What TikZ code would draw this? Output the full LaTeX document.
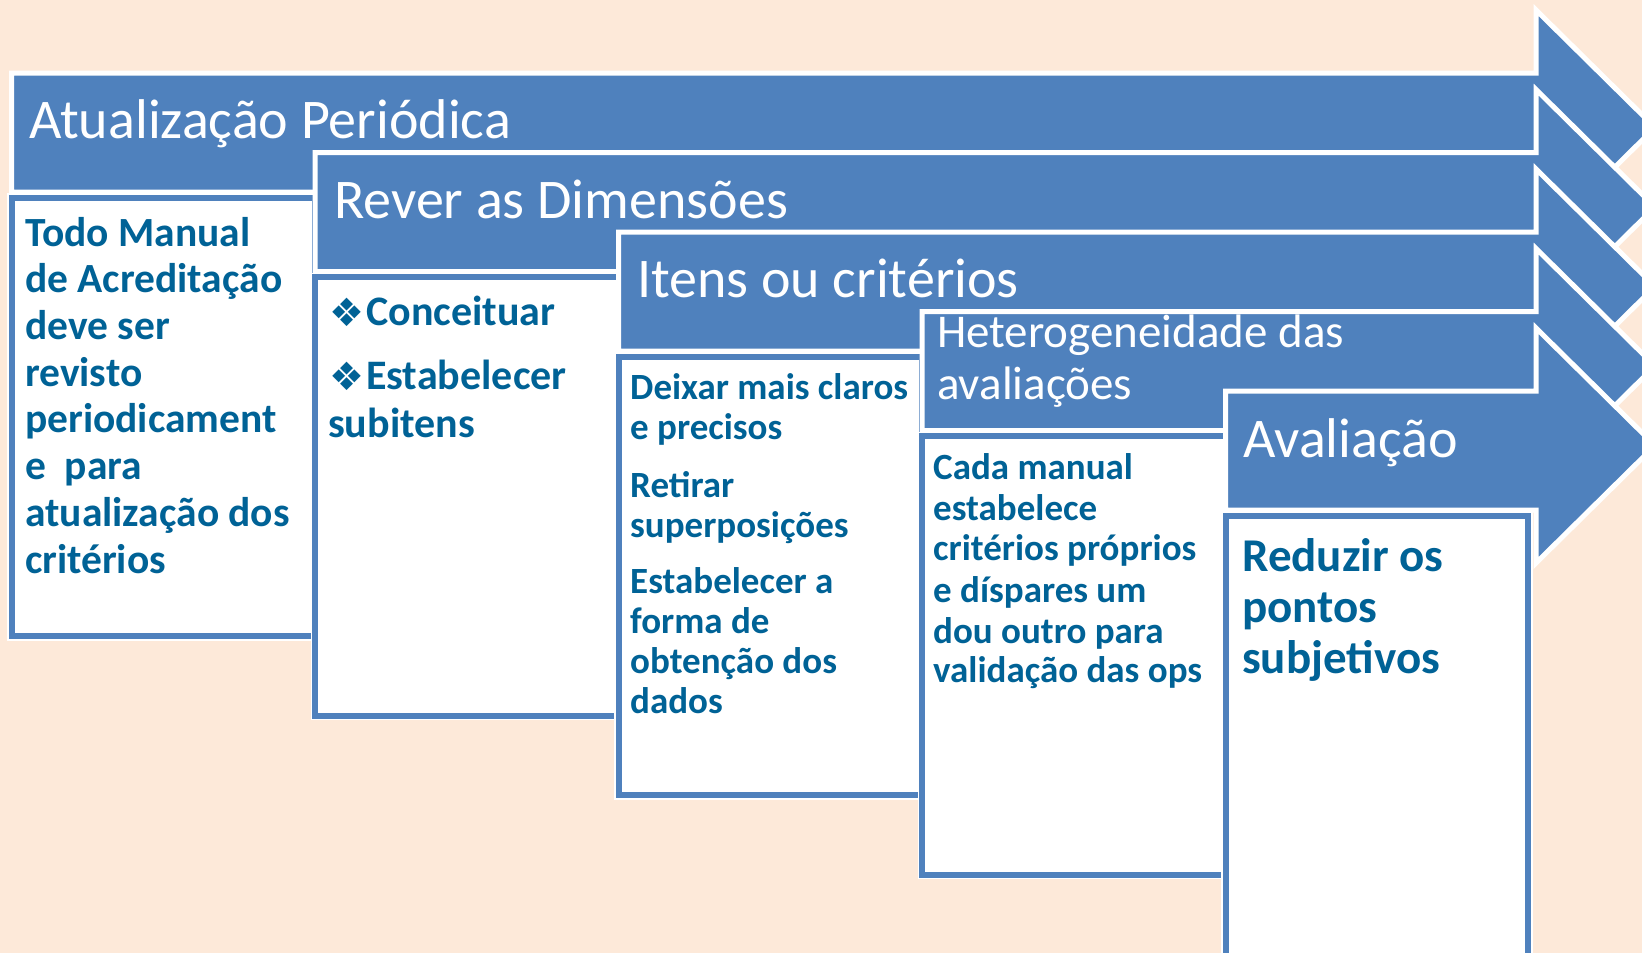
\documentclass[tikz,border=0pt]{standalone}
\usepackage{fontspec}
\setmainfont{Carlito}
\newfontfamily\dejavu{DejaVu Sans}
\definecolor{bgpeach}{RGB}{253,233,217}
\definecolor{arrowblue}{RGB}{79,129,189}
\definecolor{txtblue}{RGB}{0,98,150}
\tikzset{
  arrowshape/.style={fill=arrowblue, draw=white, line width=5pt, line join=miter},
  boxhalo/.style={draw=white, line width=9pt},
  contentbox/.style={fill=white, draw=arrowblue, line width=6pt},
  headtxt/.style={anchor=base west, inner sep=0pt, text=white, font=\fontsize{56}{60}\selectfont},
  headtxtsmall/.style={anchor=base west, inner sep=0pt, text=white, font=\fontsize{47}{52}\selectfont},
  bodyA/.style={anchor=base west, inner sep=0pt, text=txtblue, font=\bfseries\fontsize{41.5}{46}\selectfont},
  bodyB/.style={anchor=base west, inner sep=0pt, text=txtblue, font=\bfseries\fontsize{42}{46}\selectfont},
  bodyC/.style={anchor=base west, inner sep=0pt, text=txtblue, font=\bfseries\fontsize{37}{41}\selectfont},
  bodyD/.style={anchor=base west, inner sep=0pt, text=txtblue, font=\bfseries\fontsize{47}{52}\selectfont},
  bulletmark/.style={anchor=base west, inner sep=0pt, text=txtblue, font=\dejavu\fontsize{39}{40}\selectfont},
}
\begin{document}
\begin{tikzpicture}[x=1pt,y=-1pt]
\useasboundingbox (0,0) rectangle (1642,953);
\fill[bgpeach] (0,0) rectangle (1642,953);
\begin{scope}
\clip (0,0) rectangle (1642,953);
% step 1
\draw[arrowshape] (11.5,73) -- (1536,73) -- (1536,10) -- (1655,127.5) -- (1536,245) -- (1536,192) -- (11.5,192) -- cycle;
\draw[boxhalo] (11.5,197.5) rectangle (315,636);
\draw[contentbox] (11.5,197.5) rectangle (315,636);
% step 2
\draw[arrowshape] (315,152.5) -- (1536,152.5) -- (1536,89.5) -- (1655,207) -- (1536,324.5) -- (1536,271.5) -- (315,271.5) -- cycle;
\draw[boxhalo] (315,277) rectangle (618.5,715.5);
\draw[contentbox] (315,277) rectangle (618.5,715.5);
% step 3
\draw[arrowshape] (618.5,232) -- (1536,232) -- (1536,169) -- (1655,286.5) -- (1536,404) -- (1536,351) -- (618.5,351) -- cycle;
\draw[boxhalo] (618.5,356.5) rectangle (922,795);
\draw[contentbox] (618.5,356.5) rectangle (922,795);
% step 4
\draw[arrowshape] (922,311.5) -- (1536,311.5) -- (1536,248.5) -- (1655,366) -- (1536,483.5) -- (1536,430.5) -- (922,430.5) -- cycle;
\draw[boxhalo] (922,436) rectangle (1225.5,874.5);
\draw[contentbox] (922,436) rectangle (1225.5,874.5);
% step 5
\draw[arrowshape] (1225.5,391) -- (1536,391) -- (1536,328) -- (1655,445.5) -- (1536,563) -- (1536,510) -- (1225.5,510) -- cycle;
\draw[boxhalo] (1225.5,515.5) rectangle (1528,1000);
\draw[contentbox] (1225.5,515.5) rectangle (1528,1000);
\end{scope}
% header texts
\node[headtxt] (h1) at (29,138) {Atualização Periódica};
\node[headtxt] (h2) at (334,218) {Rever as Dimensões};
\node[headtxt] (h3) at (637,297) {Itens ou critérios};
\node[headtxtsmall] (h4a) at (937,347) {Heterogeneidade das};
\node[headtxtsmall] (h4b) at (937,399) {avaliações};
\node[headtxt] (h5) at (1243,457) {Avaliação};
% box 1
\node[bodyA] (b1a) at (25,246) {Todo Manual};
\node[bodyA] (b1b) at (25,292.7) {de Acreditação};
\node[bodyA] (b1c) at (25,339.4) {deve ser};
\node[bodyA] (b1d) at (25,386.1) {revisto};
\node[bodyA] (b1e) at (25,432.8) {periodicament};
\node[bodyA] (b1f) at (25,479.5) {e\ \ para};
\node[bodyA] (b1g) at (25,526.2) {atualização dos};
\node[bodyA] (b1h) at (25,573) {critérios};
% box 2
\node[bulletmark] (b2m1) at (329,326) {❖};
\node[bodyB] (b2a) at (366,325) {Conceituar};
\node[bulletmark] (b2m2) at (329,390) {❖};
\node[bodyB] (b2b) at (366,389) {Estabelecer};
\node[bodyB] (b2c) at (328,437) {subitens};
% box 3
\node[bodyC] (b3a) at (630,399) {Deixar mais claros};
\node[bodyC] (b3b) at (630,439) {e precisos};
\node[bodyC] (b3c) at (630,497) {Retirar};
\node[bodyC] (b3d) at (630,537) {superposições};
\node[bodyC] (b3e) at (630,593) {Estabelecer a};
\node[bodyC] (b3f) at (630,633) {forma de};
\node[bodyC] (b3g) at (630,673) {obtenção dos};
\node[bodyC] (b3h) at (630,713) {dados};
% box 4
\node[bodyC] (b4a) at (933,479) {Cada manual};
\node[bodyC] (b4b) at (933,520) {estabelece};
\node[bodyC] (b4c) at (933,560) {critérios próprios};
\node[bodyC] (b4d) at (933,602) {e díspares um};
\node[bodyC] (b4e) at (933,643) {dou outro para};
\node[bodyC] (b4f) at (933,682) {validação das ops};
% box 5
\node[bodyD] (b5a) at (1242,571) {Reduzir os};
\node[bodyD] (b5b) at (1242,622) {pontos};
\node[bodyD] (b5c) at (1242,673) {subjetivos};
\end{tikzpicture}
\end{document}
